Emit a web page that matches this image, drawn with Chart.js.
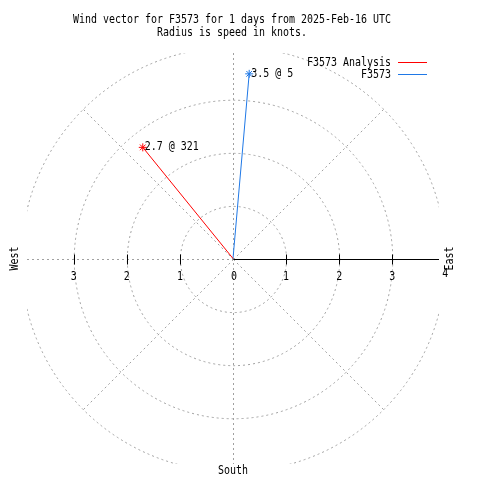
<!DOCTYPE html>
<html>
<head>
<meta charset="utf-8">
<script src="https://cdn.jsdelivr.net/npm/chart.js@4"></script>
<style>
  body { margin: 0; background: #fff; }
  #wrap { width: 480px; height: 480px; }
</style>
</head>
<body>
<div id="wrap"><canvas id="windChart"></canvas></div>
<script>
// Data
const seriesNames = ['F3573 Analysis', 'F3573'];
const speeds = [2.7, 3.5];
const directions = [321, 5];
const seriesColors = ['#ff0000', '#1f78e6'];
const rings = [1, 2, 3, 4];
const axisTicks = [-3, -2, -1, 0, 1, 2, 3, 4];
const axisTickLabels = ['3', '2', '1', '0', '1', '2', '3', '4'];
const titleLines = ['Wind vector for F3573 for 1 days from 2025-Feb-16 UTC', 'Radius is speed in knots.'];

const RANGE = 3.88;
const FONT = '12px "DejaVu Sans Mono"';

// compass direction -> x/y (north up, clockwise)
function toXY(speed, dir) {
    const a = dir * Math.PI / 180;
    return { x: speed * Math.sin(a), y: speed * Math.cos(a) };
}

function drawText(ctx, str, x, y, align, rot) {
    ctx.save();
    ctx.translate(x, y);
    if (rot) ctx.rotate(rot);
    ctx.scale(0.83, 1);
    ctx.font = FONT;
    ctx.fillStyle = '#000';
    ctx.textAlign = align || 'center';
    ctx.textBaseline = 'middle';
    ctx.fillText(str, 0, 0);
    ctx.restore();
}

const datasets = seriesNames.map((name, i) => {
    const p = toXY(speeds[i], directions[i]);
    return {
        label: name,
        data: [{ x: 0, y: 0 }, p],
        showLine: true,
        borderColor: seriesColors[i],
        backgroundColor: seriesColors[i],
        borderWidth: 1,
        pointStyle: 'star',
        pointRadius: [0, 4],
        pointBorderWidth: 1,
        pointHoverRadius: 0
    };
});

// polar grid, axis, labels, legend
const polarGrid = {
    id: 'polarGrid',
    beforeDatasetsDraw(chart) {
        const ctx = chart.ctx;
        const xs = chart.scales.x, ys = chart.scales.y;
        const area = chart.chartArea;
        const cx = Math.round(xs.getPixelForValue(0)) + 0.5;
        const cy = Math.round(ys.getPixelForValue(0)) + 0.5;
        const unit = xs.getPixelForValue(1) - xs.getPixelForValue(0);

        ctx.save();
        ctx.beginPath();
        ctx.rect(area.left, area.top, area.right - area.left, area.bottom - area.top);
        ctx.clip();
        ctx.strokeStyle = '#a0a0a0';
        ctx.lineWidth = 1;
        ctx.setLineDash([2, 3]);
        rings.forEach(r => {
            ctx.beginPath();
            ctx.arc(cx, cy, r * unit, 0, Math.PI * 2);
            ctx.stroke();
        });
        const rMax = rings[rings.length - 1] * unit;
        [45, 135, 225, 315].forEach(d => {
            const a = d * Math.PI / 180;
            ctx.beginPath();
            ctx.moveTo(cx, cy);
            ctx.lineTo(cx + rMax * Math.sin(a), cy - rMax * Math.cos(a));
            ctx.stroke();
        });
        ctx.beginPath();
        ctx.moveTo(cx, area.top);
        ctx.lineTo(cx, area.bottom);
        ctx.moveTo(area.left, cy);
        ctx.lineTo(cx, cy);
        ctx.stroke();
        ctx.restore();

        // solid axis
        ctx.save();
        ctx.strokeStyle = '#000';
        ctx.lineWidth = 1;
        ctx.beginPath();
        ctx.moveTo(cx, cy);
        ctx.lineTo(area.right, cy);
        axisTicks.forEach(t => {
            if (t === 0 || t === 4) return;
            const px = Math.round(xs.getPixelForValue(t)) + 0.5;
            ctx.moveTo(px, cy - 5);
            ctx.lineTo(px, cy + 5);
        });
        ctx.stroke();
        ctx.restore();

        axisTicks.forEach((t, i) => {
            const px = xs.getPixelForValue(t);
            drawText(ctx, axisTickLabels[i], px + (t === 0 ? 1 : 0), cy + (t === 4 ? 14 : 17), 'center');
        });
    },
    afterDraw(chart) {
        const ctx = chart.ctx;
        const cx = chart.scales.x.getPixelForValue(0);
        const cy = chart.scales.y.getPixelForValue(0);

        drawText(ctx, titleLines[0], 232, 20, 'center');
        drawText(ctx, titleLines[1], 232, 33, 'center');
        drawText(ctx, 'West', 15, cy, 'center', -Math.PI / 2);
        drawText(ctx, 'East', 450, cy, 'center', -Math.PI / 2);
        drawText(ctx, 'South', cx, 471, 'center');

        // point labels
        seriesNames.forEach((name, i) => {
            const p = toXY(speeds[i], directions[i]);
            const px = chart.scales.x.getPixelForValue(p.x);
            const py = chart.scales.y.getPixelForValue(p.y);
            drawText(ctx, speeds[i] + ' @ ' + directions[i], px + 2, py, 'left');
        });

        // legend
        seriesNames.forEach((name, i) => {
            const y = 63 + i * 12;
            drawText(ctx, name, 391, y, 'right');
            ctx.save();
            ctx.strokeStyle = seriesColors[i];
            ctx.lineWidth = 1;
            ctx.beginPath();
            ctx.moveTo(398, y - 0.5);
            ctx.lineTo(427, y - 0.5);
            ctx.stroke();
            ctx.restore();
        });
    }
};

new Chart(document.getElementById('windChart'), {
    type: 'scatter',
    data: { datasets: datasets },
    options: {
        responsive: true,
        maintainAspectRatio: false,
        animation: false,
        layout: { padding: { left: 27, right: 41, top: 53, bottom: 16 } },
        scales: {
            x: { type: 'linear', min: -RANGE, max: RANGE, display: false },
            y: { type: 'linear', min: -RANGE, max: RANGE, display: false }
        },
        plugins: {
            legend: { display: false },
            title: { display: false },
            tooltip: { enabled: false }
        }
    },
    plugins: [polarGrid]
});
</script>
</body>
</html>
